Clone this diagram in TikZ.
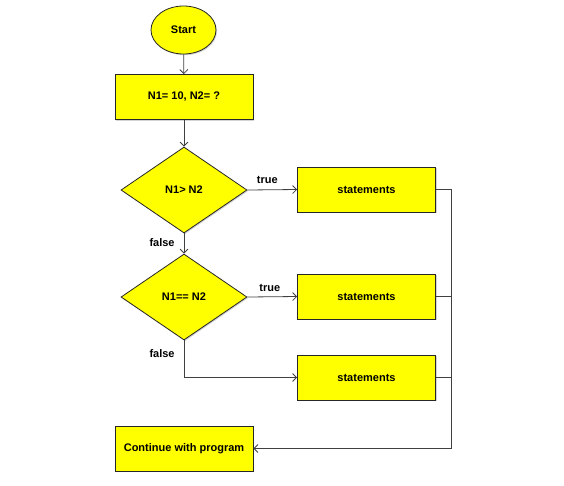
\documentclass[tikz,border=0pt]{standalone}
\usepackage{fontspec}
\setmainfont{Liberation Sans}
\usepackage{tikz}
\usetikzlibrary{
  shapes.geometric, % Shapes "ellipse", "diamond"
  arrows.meta,
  positioning,
  shadows,          % Key "drop shadow"
}
\definecolor{flowyellow}{RGB}{255,255,0}
\definecolor{flowline}{RGB}{64,64,64}
\tikzset{
  font=\fontsize{11}{13}\selectfont\bfseries,
  >={Straight Barb[length=4pt,width=8pt]},
  my shadow/.style={
    drop shadow={shadow xshift=1pt,shadow yshift=-1.2pt,opacity=0.35}
  },
  my box/.style={
    draw=black!85,
    fill=flowyellow,
    thick,
    my shadow,
    rectangle,
    minimum width=138pt,
    minimum height=45pt,
    inner sep=0pt
  },
  my decision/.style={
    draw=black!85,
    fill=flowyellow,
    thick,
    my shadow,
    diamond,
    aspect=1.47,
    minimum width=126pt,
    minimum height=86pt,
    inner sep=0pt
  },
  my start/.style={
    draw=black!85,
    fill=flowyellow,
    thick,
    my shadow,
    ellipse,
    minimum width=65pt,
    minimum height=48pt,
    inner sep=0pt
  },
  my line/.style={
    draw=flowline,
    line width=0.8pt
  },
  my label/.style={
    inner sep=1pt
  }
}
\begin{document}
\begin{tikzpicture}[x=1pt,y=-1pt]
\useasboundingbox (0,0) rectangle (564,485);
\node[my start]    (start) at (183.5,30)  {Start};
\node[my box]      (init)  at (184,97)    {N1= 10, N2= ?};
\node[my decision] (gt)    at (184,190)   {N1> N2};
\node[my decision] (eq)    at (184,297)   {N1== N2};
\node[my box]      (stA)   at (366.5,189.5) {statements};
\node[my box]      (stB)   at (366.5,296.5) {statements};
\node[my box]      (stC)   at (366.5,377.5) {statements};
\node[my box]      (cont)  at (184,448.5) {Continue with program};
% corners on the right hand side
\coordinate (rtop) at (451,189.5);
\coordinate (rbot) at (451,448.5);
\coordinate (bend) at (184,377.5);
\draw[my line,->] (start) -- (init);
\draw[my line,->] (init) -- (gt);
\draw[my line,->] (gt.east) -- node[my label,above=5pt,pos=0.4] (tA) {true} (stA.west);
\draw[my line,->] (gt.south) -- node[my label,left=8pt,pos=0.45] (fA) {false} (eq.north);
\draw[my line,->] (eq.east) -- node[my label,above=4pt,pos=0.45] (tB) {true} (stB.west);
\draw[my line,->] (eq.south) -- node[my label,left=8pt,pos=0.35] (fB) {false} (bend) -- (stC.west);
\draw[my line] (stA.east) -- (rtop) -- (rbot);
\draw[my line] (stB.east) -- (stB.east -| rtop);
\draw[my line] (stC.east) -- (stC.east -| rtop);
\draw[my line,->] (rbot) -- (cont.east);
\end{tikzpicture}
\end{document}
